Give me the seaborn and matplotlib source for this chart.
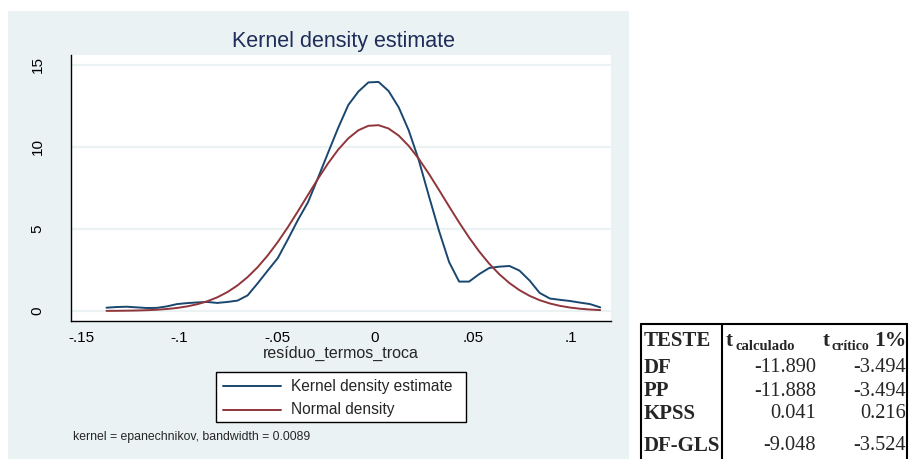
import numpy as np
import pandas as pd
import matplotlib
matplotlib.use("Agg")
import matplotlib.pyplot as plt
import seaborn as sns
from matplotlib.patches import Rectangle
from matplotlib.lines import Line2D

# ---------------- data ----------------
x_grid = [-0.1370, -0.1319, -0.1267, -0.1216, -0.1164, -0.1113, -0.1062, -0.1010,
          -0.0959, -0.0907, -0.0856, -0.0805, -0.0753, -0.0702, -0.0650, -0.0599,
          -0.0548, -0.0496, -0.0445, -0.0393, -0.0342, -0.0291, -0.0239, -0.0188,
          -0.0136, -0.0085, -0.0034, 0.0018, 0.0069, 0.0121, 0.0172, 0.0223,
          0.0275, 0.0326, 0.0378, 0.0429, 0.0480, 0.0532, 0.0583, 0.0635,
          0.0686, 0.0737, 0.0789, 0.0840, 0.0892, 0.0943, 0.0994, 0.1046,
          0.1097, 0.1149]
kernel_density = [0.20, 0.24, 0.26, 0.22, 0.18, 0.19, 0.28, 0.42,
                  0.48, 0.52, 0.55, 0.49, 0.55, 0.63, 0.95, 1.68,
                  2.45, 3.22, 4.35, 5.55, 6.62, 8.10, 9.65, 11.15,
                  12.55, 13.36, 13.92, 13.95, 13.40, 12.40, 11.00, 9.20,
                  7.00, 4.90, 2.98, 1.79, 1.79, 2.25, 2.62, 2.70,
                  2.74, 2.46, 1.85, 1.10, 0.76, 0.68, 0.61, 0.51,
                  0.42, 0.22]
normal_density = [0.006, 0.010, 0.018, 0.029, 0.048, 0.077, 0.120, 0.185,
                  0.278, 0.410, 0.590, 0.830, 1.151, 1.553, 2.062, 2.666,
                  3.375, 4.201, 5.098, 6.077, 7.070, 8.052, 8.998, 9.825,
                  10.515, 11.005, 11.277, 11.315, 11.115, 10.681, 10.055, 9.272,
                  8.351, 7.380, 6.367, 5.394, 4.474, 3.619, 2.877, 2.229,
                  1.698, 1.268, 0.920, 0.658, 0.458, 0.314, 0.211, 0.137,
                  0.088, 0.055]
series_names = ["Kernel density estimate", "Normal density"]
x_ticks = [-0.15, -0.10, -0.05, 0.0, 0.05, 0.10]
x_tick_labels = ["-.15", "-.1", "-.05", "0", ".05", ".1"]
y_ticks = [0, 5, 10, 15]
y_tick_labels = ["0", "5", "10", "15"]
title_text = "Kernel density estimate"
x_label = "resíduo_termos_troca"
note_text = "kernel = epanechnikov, bandwidth = 0.0089"

tests = ["DF", "PP", "KPSS", "DF-GLS"]
t_calc = ["-11.890", "-11.888", "0.041", "-9.048"]
t_crit = ["-3.494", "-3.494", "0.216", "-3.524"]

# ---------------- figure ----------------
W, H = 911, 459
sns.set_style("white")
plt.rcParams["font.family"] = ["Liberation Sans", "DejaVu Sans"]

fig = plt.figure(figsize=(W / 100, H / 100), dpi=100)
fig.patch.set_facecolor("white")


def fx(px):
    return px / W


def fy(py):
    return 1 - py / H


# Stata graph region background
fig.patches.append(Rectangle((fx(8), 0), fx(629) - fx(8), fy(11), transform=fig.transFigure,
                             facecolor="#EAF2F3", edgecolor="none", zorder=-5))

ax = fig.add_axes([fx(71), fy(321), fx(611) - fx(71), fy(55) - fy(321)])
ax.set_facecolor("white")
ax.set_zorder(1)

n = len(x_grid)
df = pd.DataFrame({
    "x": x_grid + x_grid,
    "density": kernel_density + normal_density,
    "series": [series_names[0]] * n + [series_names[1]] * n,
})
colors = {series_names[0]: "#1A476F", series_names[1]: "#90353B"}
sns.lineplot(data=df, x="x", y="density", hue="series", palette=colors, ax=ax,
             legend=False, linewidth=1.4, sort=False, estimator=None)

ax.set_xlim(-0.1551, 0.1204)
ax.set_ylim(-0.61, 15.59)
ax.set_xticks(x_ticks)
ax.set_xticklabels(x_tick_labels, fontsize=11)
ax.set_yticks(y_ticks)
ax.set_yticklabels(y_tick_labels, fontsize=11, rotation=90, va="center")
ax.tick_params(axis="both", direction="out", length=5, width=0.9, color="#333333",
               labelcolor="black")
ax.tick_params(axis="y", pad=14)
ax.tick_params(axis="x", pad=2.5)
ax.yaxis.grid(True, color="#EAF2F3", linewidth=1.6)
ax.xaxis.grid(False)
ax.set_axisbelow(True)
for s in ["top", "right"]:
    ax.spines[s].set_visible(False)
for s in ["left", "bottom"]:
    ax.spines[s].set_color("black")
    ax.spines[s].set_linewidth(1.0)
ax.set_xlabel(x_label, fontsize=11.5, labelpad=0.5)
ax.set_ylabel("")

# title
fig.text(fx(343), fy(41), title_text, ha="center", va="center", fontsize=15.5, color="#1E2D5A")

# legend box
fig.patches.append(Rectangle((fx(216), fy(422)), fx(466) - fx(216), fy(372) - fy(422),
                             transform=fig.transFigure, facecolor="white", edgecolor="black",
                             linewidth=1.0, zorder=2))
for i, name in enumerate(series_names):
    yy = 386 + i * 23.5
    fig.lines.append(Line2D([fx(223), fx(281)], [fy(yy), fy(yy)], transform=fig.transFigure,
                            color=colors[name], linewidth=1.4, zorder=3))
    fig.text(fx(291), fy(yy), name, ha="left", va="center", fontsize=11.2, zorder=3)

fig.text(fx(73), fy(437), note_text, ha="left", va="center", fontsize=8.8)

# ---------------- table ----------------
serif = ["Liberation Serif", "DejaVu Serif"]
lw = 1.5
tl, tr, tdiv, ttop = 641, 907, 722, 324
fig.lines.append(Line2D([fx(tl), fx(tr)], [fy(ttop), fy(ttop)], transform=fig.transFigure,
                        color="black", linewidth=lw))
for xx in [tl, tdiv, tr]:
    fig.lines.append(Line2D([fx(xx), fx(xx)], [fy(ttop), 0], transform=fig.transFigure,
                            color="black", linewidth=lw))

hy = 341
fig.text(fx(644), fy(hy), "TESTE", family=serif, fontweight="bold", fontsize=15,
         ha="left", va="center")
fig.text(fx(726), fy(hy), "t", family=serif, fontweight="bold", fontsize=15,
         ha="left", va="center")
fig.text(fx(736), fy(hy + 5), "calculado", family=serif, fontweight="bold", fontsize=10.5,
         ha="left", va="center")
fig.text(fx(823), fy(hy), "t", family=serif, fontweight="bold", fontsize=15,
         ha="left", va="center")
fig.text(fx(831), fy(hy + 5), "crítico", family=serif, fontweight="bold", fontsize=10,
         ha="left", va="center")
fig.text(fx(906), fy(hy), "1%", family=serif, fontweight="bold", fontsize=15.5,
         ha="right", va="center")

row_y = [368, 391, 414, 446]
for name, a, b, yy in zip(tests, t_calc, t_crit, row_y):
    fig.text(fx(644), fy(yy), name, family=serif, fontweight="bold", fontsize=15,
             ha="left", va="center")
    fig.text(fx(816), fy(yy), a, family=serif, fontsize=14.7, ha="right", va="center")
    fig.text(fx(906), fy(yy), b, family=serif, fontsize=14.7, ha="right", va="center")

fig.savefig("out.png", dpi=100, facecolor="white")
